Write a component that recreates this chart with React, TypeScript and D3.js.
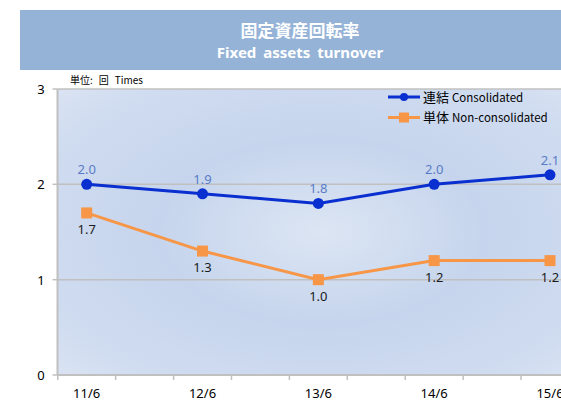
import React from "react";
import * as d3 from "d3";

const categories = ["11/6", "12/6", "13/6", "14/6", "15/6"];
const consolidated = [2.0, 1.9, 1.8, 2.0, 2.1];
const nonConsolidated = [1.7, 1.3, 1.0, 1.2, 1.2];
const yTicks = [0, 1, 2, 3];

const W = 561;
const H = 401;
const FONT = "'Noto Sans', 'Noto Sans CJK JP', sans-serif";
const JP = "'Noto Sans CJK JP', 'Noto Sans', sans-serif";

export default function App() {
  const plotLeft = 57.5;
  const plotTop = 89;
  const plotBottom = 375;
  const x = d3.scalePoint<string>().domain(categories).range([86.7, 550]);
  const y = d3.scaleLinear().domain([0, 3]).range([plotBottom, plotTop]);
  const q = x.step() / 4;
  const tickXs: number[] = [];
  categories.forEach((c) => {
    tickXs.push(x(c)! - q, x(c)! + q);
  });
  const line = d3
    .line<number>()
    .x((_, i) => x(categories[i])!)
    .y((d) => y(d));
  const blue = "#0a2fd0";
  const orange = "#f79646";
  const gray = "#c0c0c0";

  return (
    <svg
      width={W}
      height={H}
      style={{ position: "absolute", left: 0, top: 0 }}
      viewBox={`0 0 ${W} ${H}`}
    >
      <defs>
        <radialGradient id="bg" cx="0.52" cy="0.5" r="0.8" gradientUnits="objectBoundingBox">
          <stop offset="0" stopColor="#dce5f3" />
          <stop offset="0.4" stopColor="#c6d5ed" />
          <stop offset="0.75" stopColor="#d0dcf0" />
          <stop offset="1" stopColor="#e0e8f5" />
        </radialGradient>
      </defs>
      <rect x={0} y={0} width={W} height={H} fill="#ffffff" />
      {/* title band */}
      <rect x={20} y={10} width={W - 20} height={60} fill="#95b3d7" />
      <text
        x={300}
        y={37}
        textAnchor="middle"
        fill="#ffffff"
        fontFamily={JP}
        fontWeight={700}
        fontSize={17}
      >
        固定資産回転率
      </text>
      <text
        x={300}
        y={58}
        textAnchor="middle"
        fill="#ffffff"
        fontFamily={FONT}
        fontWeight={700}
        fontSize={15}
        wordSpacing={3}
      >
        Fixed assets turnover
      </text>
      <text x={70} y={84} fontFamily={JP} fontSize={10} fill="#000">
        <tspan>単位:</tspan>
        <tspan dx={6}>回</tspan>
        <tspan dx={6}>Times</tspan>
      </text>

      {/* plot area */}
      <rect
        x={plotLeft}
        y={plotTop}
        width={W - plotLeft + 5}
        height={plotBottom - plotTop}
        fill="url(#bg)"
      />
      {yTicks.map((t) => (
        <g key={t}>
          {t > 0 && (
            <line x1={plotLeft} x2={W} y1={y(t)} y2={y(t)} stroke={gray} strokeWidth={1.5} />
          )}
          <line x1={plotLeft - 5} x2={plotLeft} y1={y(t)} y2={y(t)} stroke={gray} strokeWidth={1.5} />
          <text
            x={41}
            y={y(t) + 5}
            textAnchor="middle"
            fontFamily={FONT}
            fontSize={13}
            fill="#000"
          >
            {t}
          </text>
        </g>
      ))}
      <line x1={plotLeft} x2={plotLeft} y1={plotTop} y2={plotBottom} stroke={gray} strokeWidth={2} />
      <line x1={plotLeft} x2={W} y1={plotBottom} y2={plotBottom} stroke={gray} strokeWidth={2} />
      {tickXs.map((tx, i) => (
        <line key={i} x1={tx} x2={tx} y1={plotBottom} y2={plotBottom + 5} stroke={gray} strokeWidth={1.5} />
      ))}
      {categories.map((c) => (
        <text
          key={c}
          x={x(c)!}
          y={plotBottom + 23}
          textAnchor="middle"
          fontFamily={FONT}
          fontSize={13}
          fill="#000"
        >
          {c}
        </text>
      ))}

      {/* series */}
      <path d={line(nonConsolidated)!} fill="none" stroke={orange} strokeWidth={3} />
      {nonConsolidated.map((v, i) => (
        <g key={i}>
          <rect x={x(categories[i])! - 5.5} y={y(v) - 5.5} width={11} height={11} fill={orange} />
          <text
            x={x(categories[i])!}
            y={y(v) + 21}
            textAnchor="middle"
            fontFamily={FONT}
            fontSize={13}
            fill="#1a1a1a"
          >
            {v.toFixed(1)}
          </text>
        </g>
      ))}
      <path d={line(consolidated)!} fill="none" stroke={blue} strokeWidth={3} />
      {consolidated.map((v, i) => (
        <g key={i}>
          <circle cx={x(categories[i])!} cy={y(v)} r={5.5} fill={blue} />
          <text
            x={x(categories[i])!}
            y={y(v) - 10}
            textAnchor="middle"
            fontFamily={FONT}
            fontSize={13}
            fill="#5a7cc6"
          >
            {v.toFixed(1)}
          </text>
        </g>
      ))}

      {/* legend */}
      <line x1={388} x2={420} y1={97} y2={97} stroke={blue} strokeWidth={3} />
      <circle cx={404} cy={97} r={4} fill={blue} />
      <text x={423} y={101.5} fontFamily={JP} fontSize={11.5} fill="#000">
        <tspan fontSize={13}>連結</tspan>
        <tspan dx={3}>Consolidated</tspan>
      </text>
      <line x1={388} x2={420} y1={117.5} y2={117.5} stroke={orange} strokeWidth={3} />
      <rect x={399} y={112.5} width={10} height={10} fill={orange} />
      <text x={423} y={122} fontFamily={JP} fontSize={11.5} fill="#000">
        <tspan fontSize={13}>単体</tspan>
        <tspan dx={3}>Non-consolidated</tspan>
      </text>
    </svg>
  );
}
